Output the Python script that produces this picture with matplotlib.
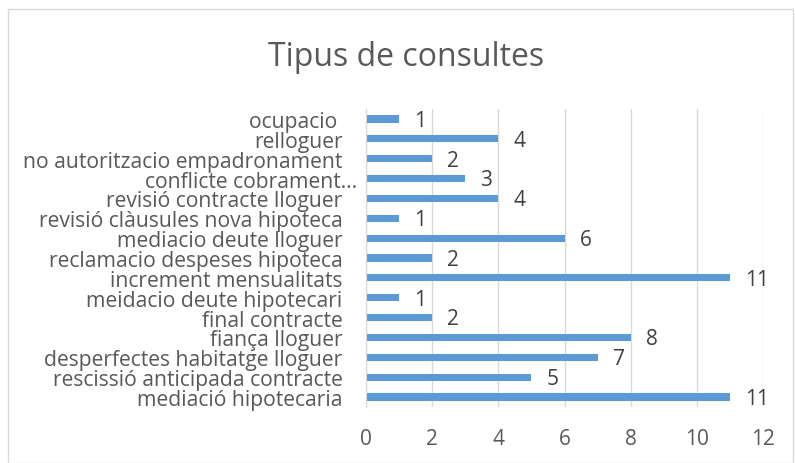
import matplotlib
matplotlib.use("Agg")
import matplotlib.pyplot as plt
from matplotlib.patches import Rectangle
from matplotlib.transforms import ScaledTranslation

categories = [
    "mediació hipotecaria",
    "rescissió anticipada contracte",
    "desperfectes habitatge lloguer",
    "fiança lloguer",
    "final contracte",
    "meidacio deute hipotecari",
    "increment mensualitats",
    "reclamacio despeses hipoteca",
    "mediacio deute lloguer",
    "revisió clàusules nova hipoteca",
    "revisió contracte lloguer",
    "conflicte cobrament…",
    "no autoritzacio empadronament",
    "relloguer",
    "ocupacio ",
]
values = [11, 5, 7, 8, 2, 1, 11, 2, 6, 1, 4, 3, 2, 4, 1]
xticks = [0, 2, 4, 6, 8, 10, 12]
title = "Tipus de consultes"

plt.rcParams['font.family'] = ['Open Sans', 'DejaVu Sans']

W, H = 795, 464
fig = plt.figure(figsize=(W / 100, H / 100), dpi=100)
fig.patches.append(Rectangle((8 / W, 0), (793 - 8) / W, (H - 10) / H,
                             transform=fig.transFigure, fill=False,
                             edgecolor='#D9D9D9', linewidth=1))

ax = fig.add_axes([366 / W, 1 - 408 / H, (763 - 366) / W, (408 - 110) / H])
y = list(range(len(categories)))
ax.barh(y, values, height=0.36, color='#5B9BD5', zorder=3)
ax.set_xlim(0, 12)
ax.set_ylim(-0.5, len(categories) - 0.5)
ax.set_xticks(xticks)
ax.set_xticklabels([str(t) for t in xticks], fontsize=15, color='#595959')
ax.set_yticks(y)
ax.set_yticklabels(categories, fontsize=15.2, color='#595959')
ax.tick_params(axis='y', length=0, pad=17)
ax.tick_params(axis='x', length=0, pad=15)
ax.grid(axis='x', color='#D9D9D9', linewidth=1, zorder=0)
for s in ['top', 'right', 'bottom']:
    ax.spines[s].set_visible(False)
ax.spines['left'].set_color('#D9D9D9')
ax.spines['left'].set_zorder(4)

for lbl in ax.get_yticklabels():
    if lbl.get_text().endswith("…"):
        lbl.set_transform(lbl.get_transform() + ScaledTranslation(15 / 100, 0, fig.dpi_scale_trans))

for yi, v in zip(y, values):
    ax.annotate(str(v), xy=(v, yi), xytext=(11, -1), textcoords='offset points',
                ha='left', va='center', fontsize=15, color='#404040')

fig.text((268 + 545) / 2 / W, 1 - 57 / H, title, ha='center', va='center',
         fontsize=23, color='#595959')

fig.savefig('out.png', dpi=100)
